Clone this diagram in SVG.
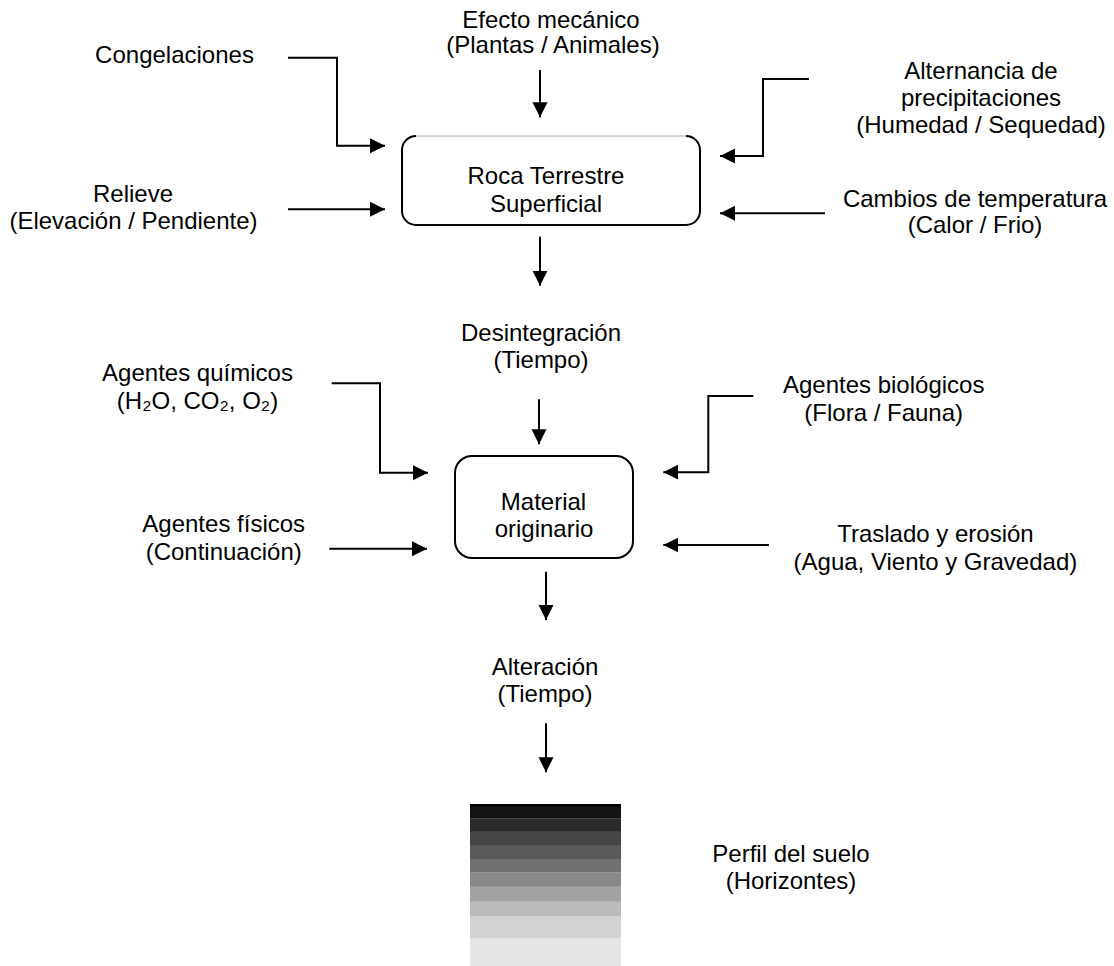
<svg xmlns="http://www.w3.org/2000/svg" width="1114" height="966" viewBox="0 0 1114 966">
<style>
text{font-family:"Liberation Sans",Arial,"DejaVu Sans",sans-serif;font-size:24px;fill:#000;text-anchor:middle}
.c{fill:none;stroke:#000;stroke-width:2}
.box{fill:#fff;stroke:#000;stroke-width:2}
</style>
<defs>
<marker id="ah" markerWidth="16" markerHeight="16" refX="15" refY="8" orient="auto" markerUnits="userSpaceOnUse">
<path d="M0,0.5 L15,8 L0,15.5 z" fill="#000"/>
</marker>
</defs>
<rect width="1114" height="966" fill="#fff"/>

<g id="connectors">
<path class="c" d="M288,57.7 H337 V145.7 H385" marker-end="url(#ah)"/>
<path class="c" d="M288,209.3 H385" marker-end="url(#ah)"/>
<path class="c" d="M540,70 V117.3" marker-end="url(#ah)"/>
<path class="c" d="M809,79 H763 V156 H720" marker-end="url(#ah)"/>
<path class="c" d="M825,213.3 H720" marker-end="url(#ah)"/>
<path class="c" d="M540,236.7 V285.7" marker-end="url(#ah)"/>
<path class="c" d="M539,399.3 V444.3" marker-end="url(#ah)"/>
<path class="c" d="M331.7,383.3 H380 V472.7 H428" marker-end="url(#ah)"/>
<path class="c" d="M329.3,548.7 H427" marker-end="url(#ah)"/>
<path class="c" d="M753.3,396 H708.3 V472.2 H663.3" marker-end="url(#ah)"/>
<path class="c" d="M769,545 H663.3" marker-end="url(#ah)"/>
<path class="c" d="M546,571.7 V620" marker-end="url(#ah)"/>
<path class="c" d="M546,723.3 V772.3" marker-end="url(#ah)"/>
</g>

<g id="roca">
<path class="box" d="M416,136 A14,14 0 0 0 402,150 V211 A14,14 0 0 0 416,225 H686 A14,14 0 0 0 700,211 V150 A14,14 0 0 0 686,136"/>
<line x1="416" y1="136" x2="686" y2="136" stroke="#aaa" stroke-width="1"/>
<text x="546" y="184">Roca Terrestre</text>
<text x="546" y="211.7">Superficial</text>
</g>

<g id="material">
<rect class="box" x="455" y="456" width="178" height="102" rx="17" ry="17"/>
<text x="543.5" y="510">Material</text>
<text x="544" y="536.7">originario</text>
</g>

<g id="congelaciones"><text x="174.5" y="63">Congelaciones</text></g>
<g id="relieve"><text x="133" y="201.7">Relieve</text><text x="133.5" y="229">(Elevación / Pendiente)</text></g>
<g id="efecto"><text x="551" y="27.7">Efecto mecánico</text><text x="553" y="53.3">(Plantas / Animales)</text></g>
<g id="alternancia"><text x="981" y="79.3">Alternancia de</text><text x="981" y="106.3">precipitaciones</text><text x="981" y="133.3">(Humedad / Sequedad)</text></g>
<g id="cambios"><text x="975" y="206.7">Cambios de temperatura</text><text x="975" y="233.3">(Calor / Frio)</text></g>
<g id="desintegracion"><text x="541" y="340.7">Desintegración</text><text x="541" y="368.3">(Tiempo)</text></g>
<g id="quimicos"><text x="197.5" y="380.7">Agentes químicos</text><text x="197.5" y="409">(H₂O, CO₂, O₂)</text></g>
<g id="fisicos"><text x="223.7" y="532.3">Agentes físicos</text><text x="223.7" y="560">(Continuación)</text></g>
<g id="biologicos"><text x="883.7" y="393.3">Agentes biológicos</text><text x="883.7" y="420.7">(Flora / Fauna)</text></g>
<g id="traslado"><text x="935.4" y="542.3">Traslado y erosión</text><text x="935.4" y="570">(Agua, Viento y Gravedad)</text></g>
<g id="alteracion"><text x="545" y="675">Alteración</text><text x="545" y="701.7">(Tiempo)</text></g>

<g id="perfil">
<rect x="470" y="804" width="151" height="3" fill="#000"/>
<rect x="470" y="806.7" width="151" height="11.8" fill="#141414"/>
<rect x="470" y="818.3" width="151" height="13.6" fill="#2b2b2b"/>
<rect x="470" y="831.7" width="151" height="14.2" fill="#454545"/>
<rect x="470" y="845.7" width="151" height="13.5" fill="#5a5a5a"/>
<rect x="470" y="859" width="151" height="13.5" fill="#707070"/>
<rect x="470" y="872.3" width="151" height="14.6" fill="#898989"/>
<rect x="470" y="886.7" width="151" height="15.2" fill="#a2a2a2"/>
<rect x="470" y="901.7" width="151" height="14.5" fill="#bbbbbb"/>
<rect x="470" y="916" width="151" height="22.5" fill="#d2d2d2"/>
<rect x="470" y="938.3" width="151" height="27.7" fill="#e5e5e5"/>
<text x="791" y="862">Perfil del suelo</text>
<text x="791" y="889">(Horizontes)</text>
</g>
</svg>
